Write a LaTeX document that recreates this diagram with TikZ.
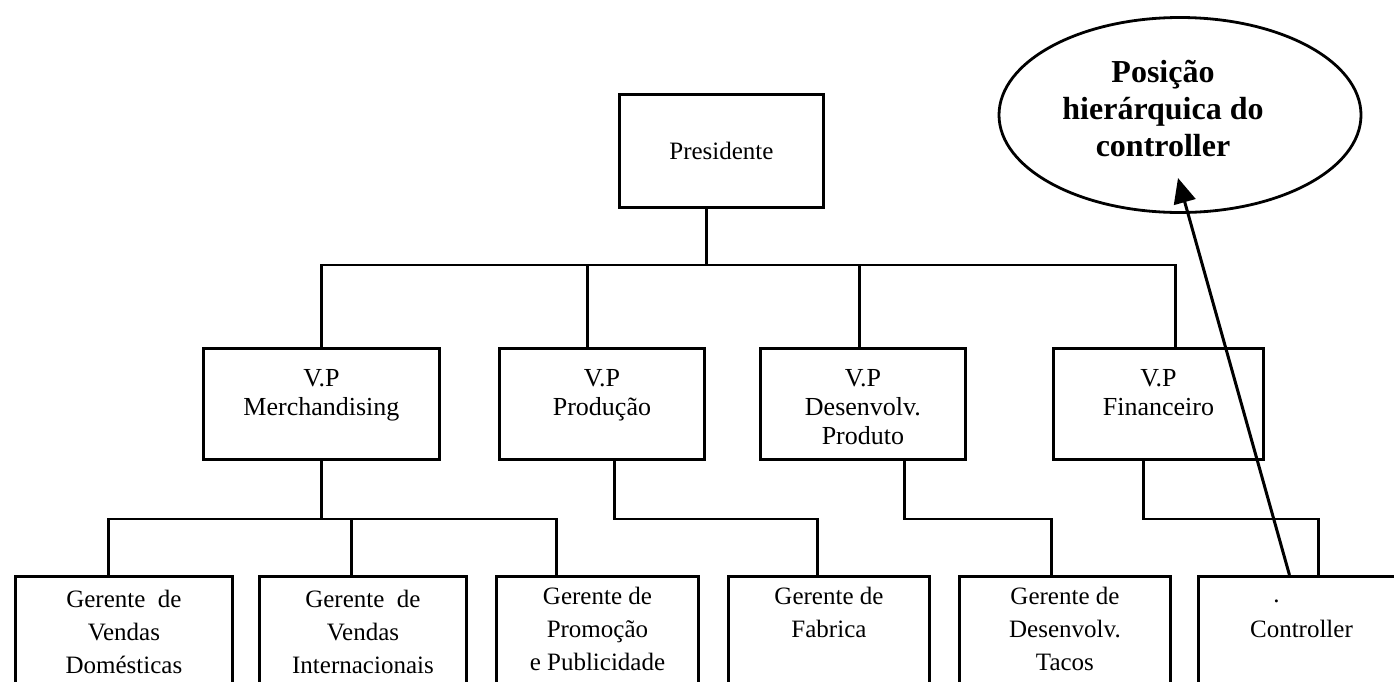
\documentclass[tikz,border=0pt]{standalone}
\usepackage{fontspec}
\setmainfont{Liberation Serif}
\usetikzlibrary{shapes.geometric,arrows.meta}

\begin{document}
\begin{tikzpicture}[x=1pt,y=-1pt,
  box/.style={draw, line width=2.9pt, inner sep=0pt, anchor=north west},
  vptext/.style={align=center, inner sep=0pt, anchor=north, font=\fontsize{26}{29}\selectfont},
  gtext/.style={align=center, inner sep=0pt, anchor=north, font=\fontsize{25}{33}\selectfont},
  conn/.style={line width=2.7pt},
  pointer/.style={line width=3pt, -{Triangle[length=25pt,width=22pt]}},
]
\useasboundingbox (0,0) rectangle (1394,681);
\fill[white] (0,0) rectangle (1394,681);
\clip (0,0) rectangle (1394,681);

% top of the hierarchy
\node[box, minimum width=204pt, minimum height=113pt, font=\fontsize{25}{30}\selectfont]
  (pres) at (618,93) {Presidente};

% vice-presidents
\node[box, minimum width=236pt, minimum height=111pt] (vpm) at (202,347) {};
\node[box, minimum width=205pt, minimum height=111pt] (vpp) at (498,347) {};
\node[box, minimum width=205pt, minimum height=111pt] (vpd) at (759,347) {};
\node[box, minimum width=210pt, minimum height=111pt] (vpf) at (1052,347) {};
\node[vptext] (vpmt) at ([yshift=-22pt]vpm.north) {V.P\\Merchandising};
\node[vptext] (vppt) at ([yshift=-22pt]vpp.north) {V.P\\Produção};
\node[vptext] (vpdt) at ([yshift=-22pt]vpd.north) {V.P\\Desenvolv.\\Produto};
\node[vptext] (vpft) at ([yshift=-22pt]vpf.north) {V.P\\Financeiro};

% managers (boxes run past the lower edge)
\node[box, minimum width=217pt, minimum height=130pt] (g1) at (14,575) {};
\node[box, minimum width=207pt, minimum height=130pt] (g2) at (258,575) {};
\node[box, minimum width=202pt, minimum height=130pt] (g3) at (495,575) {};
\node[box, minimum width=201pt, minimum height=130pt] (g4) at (727,575) {};
\node[box, minimum width=211pt, minimum height=130pt] (g5) at (958,575) {};
\node[box, minimum width=206pt, minimum height=130pt] (g6) at (1197,575) {};
\node[gtext] (g1t) at ([yshift=-15pt]g1.north) {Gerente\ \ de\\Vendas\\Domésticas};
\node[gtext] (g2t) at ([yshift=-15pt]g2.north) {Gerente\ \ de\\Vendas\\Internacionais};
\node[gtext] (g3t) at ([yshift=-12pt]g3.north) {Gerente de\\Promoção\\e Publicidade};
\node[gtext] (g4t) at ([yshift=-12pt]g4.north) {Gerente de\\Fabrica};
\node[gtext] (g5t) at ([yshift=-12pt]g5.north) {Gerente de\\Desenvolv.\\Tacos};
\node[anchor=base, inner sep=0pt, font=\fontsize{25}{33}\selectfont] (g6d) at ([xshift=-25pt,yshift=-27pt]g6.north) {.};
\node[anchor=base, inner sep=0pt, font=\fontsize{25}{33}\selectfont] (g6t) at ([yshift=-62pt]g6.north) {Controller};

% callout
\node[draw, ellipse, line width=2.8pt, minimum width=362pt, minimum height=195pt, inner sep=0pt]
  (ell) at (1180,115) {};
\node[align=center, inner sep=0pt, anchor=north, font=\fontsize{32}{37}\bfseries\selectfont]
  (ellt) at (1163,60) {Posição\\hierárquica do\\controller};
\coordinate (tip) at (1178,178);

% bus levels
\coordinate (lvl1) at (0,265);
\coordinate (lvl2) at (0,519);

% stub points on the boxes
\coordinate (ps)   at ([xshift=-15pt]pres.south);
\coordinate (vpmT) at (vpm.north);
\coordinate (vppT) at ([xshift=-14.5pt]vpp.north);
\coordinate (vpdT) at ([xshift=-3.5pt]vpd.north);
\coordinate (vpfT) at ([xshift=17pt]vpf.north);
\coordinate (vpmB) at (vpm.south);
\coordinate (vppB) at ([xshift=12.5pt]vpp.south);
\coordinate (vpdB) at ([xshift=41.5pt]vpd.south);
\coordinate (vpfB) at ([xshift=-15pt]vpf.south);
\coordinate (g1T) at ([xshift=-15.5pt]g1.north);
\coordinate (g2T) at ([xshift=-11.5pt]g2.north);
\coordinate (g3T) at ([xshift=-41pt]g3.north);
\coordinate (g4T) at ([xshift=-11.5pt]g4.north);
\coordinate (g5T) at ([xshift=-13.5pt]g5.north);
\coordinate (g6T) at ([xshift=17pt]g6.north);
\coordinate (g6A) at ([xshift=-12pt]g6.north);

% president to vice-presidents
\draw[conn] (ps) -- (ps |- lvl1);
\draw[conn] (vpmT) |- (vpfT |- lvl1) -- (vpfT);
\draw[conn] (vppT) -- (vppT |- lvl1);
\draw[conn] (vpdT) -- (vpdT |- lvl1);

% vice-presidents to managers
\draw[conn] (vpmB) -- (vpmB |- lvl2);
\draw[conn] (g1T) |- (g3T |- lvl2) -- (g3T);
\draw[conn] (g2T) -- (g2T |- lvl2);
\draw[conn] (vppB) |- (g4T |- lvl2) -- (g4T);
\draw[conn] (vpdB) |- (g5T |- lvl2) -- (g5T);
\draw[conn] (vpfB) |- (g6T |- lvl2) -- (g6T);

% pointer from the controller to the callout
\draw[pointer] (g6A) -- (tip);
\end{tikzpicture}
\end{document}
